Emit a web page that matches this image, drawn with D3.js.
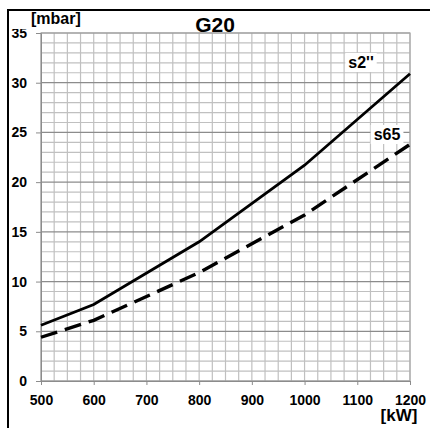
<!DOCTYPE html>
<html><head><meta charset="utf-8">
<script src="https://cdn.jsdelivr.net/npm/d3@7"></script>
<style>body{margin:0;background:#fff}svg{display:block}text{font-family:"Liberation Sans",Arial,sans-serif;font-weight:bold}</style>
</head><body>
<script>
const kw = [500, 600, 800, 1000, 1200];
const s2 = [5.6, 7.7, 14.0, 21.7, 30.9];
const s65 = [4.4, 6.1, 10.9, 16.7, 23.8];
const xTicks = [500, 600, 700, 800, 900, 1000, 1100, 1200];
const yTicks = [0, 5, 10, 15, 20, 25, 30, 35];
const seriesNames = ["s2''", "s65"];

const W = 430, H = 428;
const svg = d3.select("body").append("svg").attr("width", W).attr("height", H);
const x = d3.scaleLinear().domain([500, 1200]).range([41, 410]);
const y = d3.scaleLinear().domain([0, 35]).range([381, 33]);

// frame
svg.append("rect").attr("x", 8).attr("y", 10).attr("width", 440).attr("height", 440)
  .attr("fill", "none").attr("stroke", "#000").attr("stroke-width", 2);

// grid
const g = svg.append("g");
d3.range(500, 1201, 25).forEach(v => {
  g.append("line").attr("x1", x(v)).attr("x2", x(v)).attr("y1", y(0)).attr("y2", y(35))
    .attr("stroke", "#c0c0c0").attr("stroke-width", 1.2);
});
d3.range(0, 36, 1).forEach(v => {
  g.append("line").attr("x1", x(500)).attr("x2", x(1200)).attr("y1", y(v)).attr("y2", y(v))
    .attr("stroke", v % 5 === 0 ? "#8c8c8c" : "#c0c0c0").attr("stroke-width", 1.2);
});
g.append("rect").attr("x", x(500)).attr("y", y(35)).attr("width", x(1200) - x(500)).attr("height", y(0) - y(35))
  .attr("fill", "none").attr("stroke", "#a8a8a8").attr("stroke-width", 1.2);

// axes
const xa = svg.append("g").attr("transform", `translate(0,${y(0)})`)
  .call(d3.axisBottom(x).tickValues(xTicks).tickFormat(d3.format("d")).tickSize(4).tickPadding(10));
xa.select(".domain").attr("stroke", "#8c8c8c");
xa.selectAll(".tick line").attr("stroke", "#8c8c8c");
xa.selectAll("text").attr("font-size", 14).attr("fill", "#000");

const ya = svg.append("g").attr("transform", `translate(${x(500)},0)`)
  .call(d3.axisLeft(y).tickValues(yTicks).tickSize(5).tickPadding(4));
ya.select(".domain").attr("stroke", "#8c8c8c");
ya.selectAll(".tick line").attr("stroke", "#8c8c8c");
ya.selectAll("text").attr("font-size", 14).attr("fill", "#000").attr("text-anchor", "end").attr("dx", -5);

// lines
const line = d3.line().x((d, i) => x(kw[i])).y(d => y(d));
svg.append("path").datum(s2).attr("d", line).attr("fill", "none").attr("stroke", "#000")
  .attr("stroke-width", 2.8);
svg.append("path").datum(s65).attr("d", line).attr("fill", "none").attr("stroke", "#000")
  .attr("stroke-width", 3.4).attr("stroke-dasharray", "17,8");

// series labels
function label(txt, cx, cy) {
  const t = svg.append("text").attr("x", cx).attr("y", cy).attr("text-anchor", "middle")
    .attr("font-size", 16).text(txt);
  const b = t.node().getBBox();
  svg.insert("rect", () => t.node()).attr("x", b.x - 3).attr("y", b.y - 1)
    .attr("width", b.width + 6).attr("height", b.height + 2).attr("fill", "#fff");
}
label(seriesNames[0], 361, 68);
label(seriesNames[1], 387, 140);

// title and unit labels
svg.append("rect").attr("x", 10).attr("y", 12).attr("width", 80).attr("height", 17).attr("fill", "#fff");
svg.append("text").attr("x", 31).attr("y", 24).attr("font-size", 16).text("[mbar]");
svg.append("text").attr("x", 215).attr("y", 32).attr("text-anchor", "middle").attr("font-size", 21).text("G20");
svg.append("text").attr("x", 399).attr("y", 421).attr("text-anchor", "middle").attr("font-size", 17).text("[kW]");
</script>
</body></html>
